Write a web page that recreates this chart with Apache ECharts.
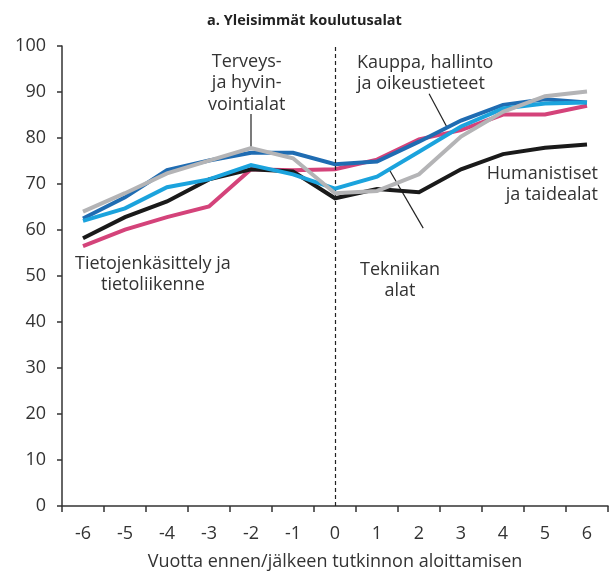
<!DOCTYPE html>
<html>
<head>
<meta charset="utf-8">
<script src="https://cdn.jsdelivr.net/npm/echarts@6/dist/echarts.min.js"></script>
<style>
  html, body { margin: 0; padding: 0; background: #fff; }
  #chart { width: 609px; height: 572px; }
</style>
</head>
<body>
<div id="chart"></div>
<script>
// Years relative to the start of the degree
const years = ['-6', '-5', '-4', '-3', '-2', '-1', '0', '1', '2', '3', '4', '5', '6'];
const yTicks = [0, 10, 20, 30, 40, 50, 60, 70, 80, 90, 100];

// Share (%) per field of study
const tietojenkasittely = [56.5, 60.1, 62.8, 65.1, 73.2, 73.0, 73.2, 75.3, 79.7, 81.7, 85.1, 85.1, 87.0];
const humanistiset      = [58.2, 62.8, 66.2, 71.0, 73.2, 72.7, 66.9, 68.9, 68.2, 73.2, 76.5, 77.9, 78.6];
const kauppa            = [62.5, 67.1, 73.0, 75.1, 76.8, 76.8, 74.3, 74.9, 79.2, 83.8, 87.2, 88.4, 87.7];
const tekniikka         = [62.0, 64.7, 69.3, 71.0, 74.1, 72.1, 69.0, 71.6, 77.0, 82.5, 86.4, 87.5, 87.7];
const terveys           = [64.0, 68.0, 72.3, 75.1, 77.8, 75.6, 68.0, 68.5, 72.1, 80.3, 85.7, 89.1, 90.1];

const FONT = '"Open Sans", Lato, sans-serif';
const TXT = '#333';
const FS = 18;

const chart = echarts.init(document.getElementById('chart'), null, { renderer: 'canvas' });

function line(name, data, color, z) {
  return {
    name, type: 'line', data, z,
    symbol: 'none', smooth: false,
    lineStyle: { color, width: 4, join: 'miter' },
    emphasis: { disabled: true }
  };
}

const series = [
  line('Tietojenkäsittely ja tietoliikenne', tietojenkasittely, '#d4437a', 2),
  line('Humanistiset ja taidealat', humanistiset, '#1a1a1a', 3),
  line('Kauppa, hallinto ja oikeustieteet', kauppa, '#1f6cb2', 4),
  line('Tekniikan alat', tekniikka, '#1ba3dd', 5),
  line('Terveys- ja hyvinvointialat', terveys, '#b4b4b6', 6)
];
// dashed reference line at the start of studies
series[0].markLine = {
  silent: true, symbol: 'none', label: { show: false },
  lineStyle: { color: '#222', type: [4, 3], width: 1.2 },
  data: [{ xAxis: '0' }]
};

chart.setOption({
  animation: false,
  backgroundColor: '#fff',
  title: {
    text: 'a. Yleisimmät koulutusalat',
    left: 'center', top: 8,
    textStyle: { fontFamily: FONT, fontSize: 14.5, fontWeight: 'bold', color: '#222' }
  },
  grid: { left: 62, right: 1, top: 46, bottom: 66, containLabel: false, outerBoundsMode: 'none' },
  xAxis: {
    type: 'category', data: years, boundaryGap: true,
    name: 'Vuotta ennen/jälkeen tutkinnon aloittamisen',
    nameLocation: 'middle', nameGap: 47,
    nameTextStyle: { fontFamily: FONT, fontSize: FS, color: TXT },
    axisLine: { lineStyle: { color: '#333', width: 1.5 } },
    axisTick: { show: true, length: 6, lineStyle: { color: '#333', width: 1.5 } },
    axisLabel: { fontFamily: FONT, fontSize: FS, color: TXT, margin: 19 },
    splitLine: { show: false }
  },
  yAxis: {
    type: 'value', min: yTicks[0], max: yTicks[yTicks.length - 1], interval: 10,
    axisLine: { show: true, lineStyle: { color: '#333', width: 1.5 } },
    axisTick: { show: true, length: 5, lineStyle: { color: '#333', width: 1.5 } },
    axisLabel: { fontFamily: FONT, fontSize: FS, color: TXT, margin: 16 },
    splitLine: { show: false }
  },
  series
});

// Label texts and their pointer lines
function px(idx, val) {
  const i0 = Math.floor(idx), i1 = Math.min(Math.ceil(idx), years.length - 1);
  const p0 = chart.convertToPixel({ gridIndex: 0 }, [years[i0], val]);
  const p1 = chart.convertToPixel({ gridIndex: 0 }, [years[i1], val]);
  return [p0[0] + (p1[0] - p0[0]) * (idx - i0), p0[1]];
}
function onLine(arr, idx) {
  const i0 = Math.floor(idx), i1 = Math.min(Math.ceil(idx), arr.length - 1);
  const v = arr[i0] + (arr[i1] - arr[i0]) * (idx - i0);
  return px(idx, v);
}
const textStyle = (extra) => Object.assign({ fontFamily: FONT, fontSize: FS, fill: TXT, lineHeight: 21.5 }, extra);

const tvTip = onLine(terveys, 4);
const kaTip = onLine(kauppa, 8.67);
const kaTail = px(8.24, 89.6);
const teTip = onLine(tekniikka, 7.29);
const teTail = px(8.1, 60.4);

chart.setOption({
  graphic: [
    { type: 'text', left: 208, top: 51, style: textStyle({ text: 'Terveys-\nja hyvin-\nvointialat', textAlign: 'center', x: 44 }) },
    { type: 'line', shape: { x1: tvTip[0], y1: px(4, 85.2)[1], x2: tvTip[0], y2: tvTip[1] }, style: { stroke: '#222', lineWidth: 1.2 } },
    { type: 'text', left: 357, top: 52, style: textStyle({ text: 'Kauppa, hallinto\nja oikeustieteet' }) },
    { type: 'line', shape: { x1: kaTail[0], y1: kaTail[1], x2: kaTip[0], y2: kaTip[1] }, style: { stroke: '#222', lineWidth: 1.2 } },
    { type: 'text', left: 360, top: 259, style: textStyle({ text: 'Tekniikan\nalat', textAlign: 'center', x: 44 }) },
    { type: 'line', shape: { x1: teTail[0], y1: teTail[1], x2: teTip[0], y2: teTip[1] }, style: { stroke: '#222', lineWidth: 1.2 } },
    { type: 'text', right: 11, top: 163, style: textStyle({ text: 'Humanistiset\nja taidealat', textAlign: 'right' }) },
    { type: 'text', left: 75, top: 253, style: textStyle({ text: 'Tietojenkäsittely ja\ntietoliikenne', textAlign: 'center', x: 88 }) }
  ]
});
</script>
</body>
</html>
